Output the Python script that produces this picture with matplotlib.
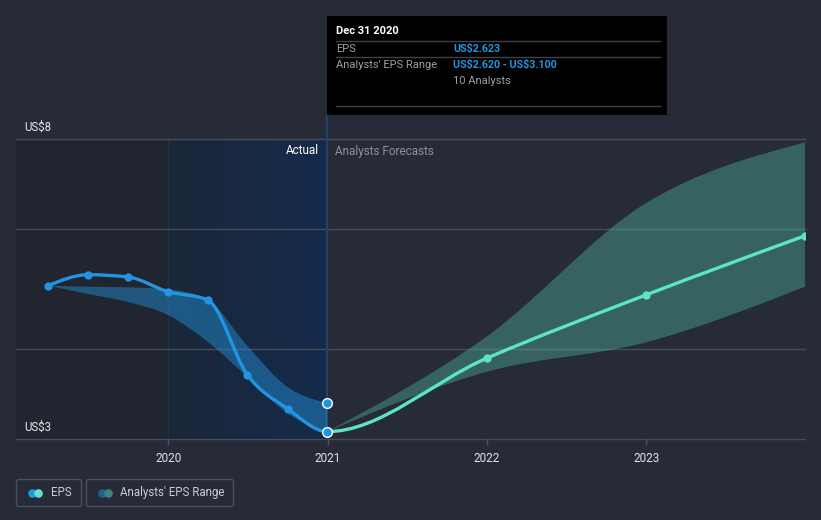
import numpy as np
import matplotlib
matplotlib.use('Agg')
import matplotlib.pyplot as plt
from matplotlib.path import Path
from matplotlib.patches import PathPatch, Rectangle, FancyBboxPatch
from matplotlib.colors import LinearSegmentedColormap
from matplotlib.lines import Line2D

plt.rcParams['font.family'] = ['Roboto', 'DejaVu Sans']

# ---------------- data ----------------
eps_dates = [2019.246, 2019.496, 2019.748, 2019.998, 2020.246, 2020.496, 2020.748, 2020.998]
eps_values = [5.055, 5.238, 5.20, 4.955, 4.82, 3.57, 3.005, 2.623]
hist_range_high = [5.055, 5.038, 5.028, 4.995, 4.817, 4.05, 3.367, 3.100]
hist_range_low = [5.055, 4.917, 4.783, 4.567, 4.122, 3.538, 2.928, 2.620]

fc_dates = [2020.998, 2021.997, 2022.997, 2023.997]
fc_eps = [2.623, 3.845, 4.90, 5.888]
fc_high = [2.623, 4.205, 6.43, 7.445]
fc_low = [2.623, 3.62, 4.11, 5.04]

year_ticks = [2020, 2021, 2022, 2023]
year_labels = ['2020', '2021', '2022', '2023']
y_min, y_max = 2.5, 7.5
y_grid = [2.5, 4.0, 6.0, 7.5]
y_label_vals = [7.5, 2.5]
y_label_text = ['US$8', 'US$3']
x_min, x_max = 2019.044, 2023.994
hover_date = 2020.998

tip_title = 'Dec 31 2020'
tip_rows = [('EPS', 'US$2.623'), ("Analysts' EPS Range", 'US$2.620 - US$3.100')]
tip_extra = '10 Analysts'

# ---------------- colours ----------------
BG = '#262b37'
BLUE = '#2394df'
TEAL = '#5de4c7'
GRID = '#464c58'


def sgn(v):
    return -1.0 if v < 0 else 1.0


def mono_tangents(x, y):
    x = np.asarray(x, float)
    y = np.asarray(y, float)
    n = len(x)
    h = np.diff(x)
    s = np.diff(y) / h
    t = np.zeros(n)
    if n == 2:
        t[:] = s[0]
        return t
    for i in range(1, n - 1):
        h0, h1 = h[i - 1], h[i]
        s0, s1 = s[i - 1], s[i]
        p = (s0 * h1 + s1 * h0) / (h0 + h1)
        t[i] = (sgn(s0) + sgn(s1)) * min(abs(s0), abs(s1), 0.5 * abs(p))
    t[0] = (3 * s[0] - t[1]) / 2
    t[-1] = (3 * s[-1] - t[-2]) / 2
    return t


def bezier_segments(x, y):
    t = mono_tangents(x, y)
    segs = []
    for i in range(len(x) - 1):
        h = x[i + 1] - x[i]
        segs.append(((x[i], y[i]),
                     (x[i] + h / 3, y[i] + h * t[i] / 3),
                     (x[i + 1] - h / 3, y[i + 1] - h * t[i + 1] / 3),
                     (x[i + 1], y[i + 1])))
    return segs


def segs_to_path(segs):
    verts = [segs[0][0]]
    codes = [Path.MOVETO]
    for s in segs:
        verts += [s[1], s[2], s[3]]
        codes += [Path.CURVE4] * 3
    return Path(verts, codes)


def band_path(x, lo, hi):
    su = bezier_segments(x, hi)
    sl = bezier_segments(x, lo)
    verts = [su[0][0]]
    codes = [Path.MOVETO]
    for s in su:
        verts += [s[1], s[2], s[3]]
        codes += [Path.CURVE4] * 3
    verts.append(sl[-1][3])
    codes.append(Path.LINETO)
    for s in reversed(sl):
        verts += [s[2], s[1], s[0]]
        codes += [Path.CURVE4] * 3
    verts.append(su[0][0])
    codes.append(Path.CLOSEPOLY)
    return Path(verts, codes)


W, H = 821, 520
fig = plt.figure(figsize=(W / 100, H / 100), dpi=100, facecolor=BG)


def fx(px):
    return px / W


def fy(py):
    return 1 - py / H


ax = fig.add_axes([fx(16), fy(439), (804.7 - 16) / W, 300 / H])
ax.set_facecolor(BG)
for sp in ax.spines.values():
    sp.set_visible(False)

# background shading
ax.axvspan(x_min, year_ticks[0], color='#21252f', zorder=0, lw=0)
cmap = LinearSegmentedColormap.from_list('hl', ['#1b2739', '#152a4b'])
grad = np.linspace(0, 1, 256).reshape(1, -1)
ax.imshow(grad, extent=[year_ticks[0], hover_date, y_min, y_max], aspect='auto',
          cmap=cmap, zorder=0.5, interpolation='bicubic')
ax.set_xlim(x_min, x_max)
ax.set_ylim(y_min, y_max)
ax.axvline(year_ticks[0], color='#1d3252', lw=1, zorder=0.6)

# grid
for g in y_grid:
    ax.axhline(g, color=GRID, lw=1, zorder=1, clip_on=False)

# hover line
ax.plot([hover_date, hover_date], [y_min, 7.9], color='#22426c', lw=1.5,
        zorder=1.2, clip_on=False)

# bands
ax.add_patch(PathPatch(band_path(eps_dates, hist_range_low, hist_range_high),
                       facecolor=BLUE, alpha=0.45, lw=0, zorder=2))
ax.add_patch(PathPatch(band_path(fc_dates, fc_low, fc_high),
                       facecolor=TEAL, alpha=0.3, lw=0, zorder=2))

# EPS line (one monotone curve, two colours)
all_x = eps_dates + fc_dates[1:]
all_y = eps_values + fc_eps[1:]
segs = bezier_segments(all_x, all_y)
nh = len(eps_dates) - 1
ax.add_patch(PathPatch(segs_to_path(segs[:nh]), fill=False, edgecolor=BLUE,
                       lw=2.4, zorder=4, capstyle='round', joinstyle='round'))
ax.add_patch(PathPatch(segs_to_path(segs[nh:]), fill=False, edgecolor=TEAL,
                       lw=2.4, zorder=4, capstyle='round', joinstyle='round'))

# markers
ax.plot(eps_dates[:-1], eps_values[:-1], 'o', ms=6, color=BLUE, zorder=5, mew=0)
ax.plot(fc_dates[1:], fc_eps[1:], 'o', ms=6, color=TEAL, zorder=5, mew=0)
ax.plot([hover_date, hover_date], [eps_values[-1], hist_range_high[-1]], 'o', ms=7,
        mfc=BLUE, mec='white', mew=1, zorder=6, clip_on=False, ls='none')

# axis ticks
ax.set_yticks([])
ax.set_xticks(year_ticks)
ax.set_xticklabels(year_labels)
ax.tick_params(axis='x', color='#4a505c', length=4, width=1, pad=5,
               labelcolor='#e0e3e8', labelsize=8.5)

# y labels
for v, lab in zip(y_label_vals, y_label_text):
    ax.annotate(lab, xy=(0, v), xycoords=('axes fraction', 'data'),
                xytext=(8, 12), textcoords='offset pixels', ha='left', va='center',
                color='#e6e8ec', fontsize=8.3, parse_math=False)

# Actual / forecast labels
ax.annotate('Actual', xy=(hover_date, y_max), xytext=(-8, -12),
            textcoords='offset pixels', ha='right', va='center', color='white',
            fontsize=8.5)
ax.annotate('Analysts Forecasts', xy=(hover_date, y_max), xytext=(8, -12),
            textcoords='offset pixels', ha='left', va='center', color='#8b909a',
            fontsize=8.5)

# ---------------- tooltip ----------------
fig.patches.append(Rectangle((fx(327), fy(115)), (667 - 327) / W, (115 - 16) / H,
                             transform=fig.transFigure, facecolor='black',
                             edgecolor='none', zorder=10))
TIP_FS = 8.0
fig.text(fx(336), fy(31), tip_title, color='white', fontsize=TIP_FS, fontweight='bold',
         va='center', ha='left', zorder=11)
for yy in (40.5, 57.3, 106.5):
    fig.lines.append(Line2D([fx(336), fx(660)], [fy(yy), fy(yy)], transform=fig.transFigure,
                            color='#3d424b', lw=1, zorder=11))
for (lab, val), yy in zip(tip_rows, (48.5, 65)):
    fig.text(fx(336), fy(yy), lab, color='#9aa0a8', fontsize=TIP_FS, va='center',
             ha='left', zorder=11, parse_math=False)
    fig.text(fx(453), fy(yy), val, color=BLUE, fontsize=TIP_FS - 0.3, fontweight='bold',
             va='center', ha='left', zorder=11, parse_math=False)
fig.text(fx(453), fy(81.5), tip_extra, color='#9aa0a8', fontsize=TIP_FS, va='center',
         ha='left', zorder=11)

# ---------------- legend ----------------
legend_items = [
    ('EPS', BLUE, TEAL, 16.5, 81.5),
    ("Analysts' EPS Range", '#245f91', '#3e8384', 86.5, 233.5),
]
for lab, c1, c2, x0, x1 in legend_items:
    fig.patches.append(FancyBboxPatch((fx(x0), fy(506.5)), (x1 - x0) / W, 27 / H,
                                      boxstyle='round,pad=0,rounding_size=0.003',
                                      transform=fig.transFigure, facecolor='none',
                                      edgecolor='#4a505c', lw=1, zorder=10))
    cy = 492.5
    fig.lines.append(Line2D([fx(x0 + 15)], [fy(cy)], marker='o', ms=6.2, color=c1,
                            mew=0, transform=fig.transFigure, zorder=11))
    fig.lines.append(Line2D([fx(x0 + 21)], [fy(cy)], marker='o', ms=6.2, color=c2,
                            mew=0, transform=fig.transFigure, zorder=12))
    fig.text(fx(x0 + 34), fy(cy), lab, color='#c9cdd3', fontsize=8.3, va='center',
             ha='left', zorder=12)

fig.savefig('out.png', dpi=100, facecolor=BG)
